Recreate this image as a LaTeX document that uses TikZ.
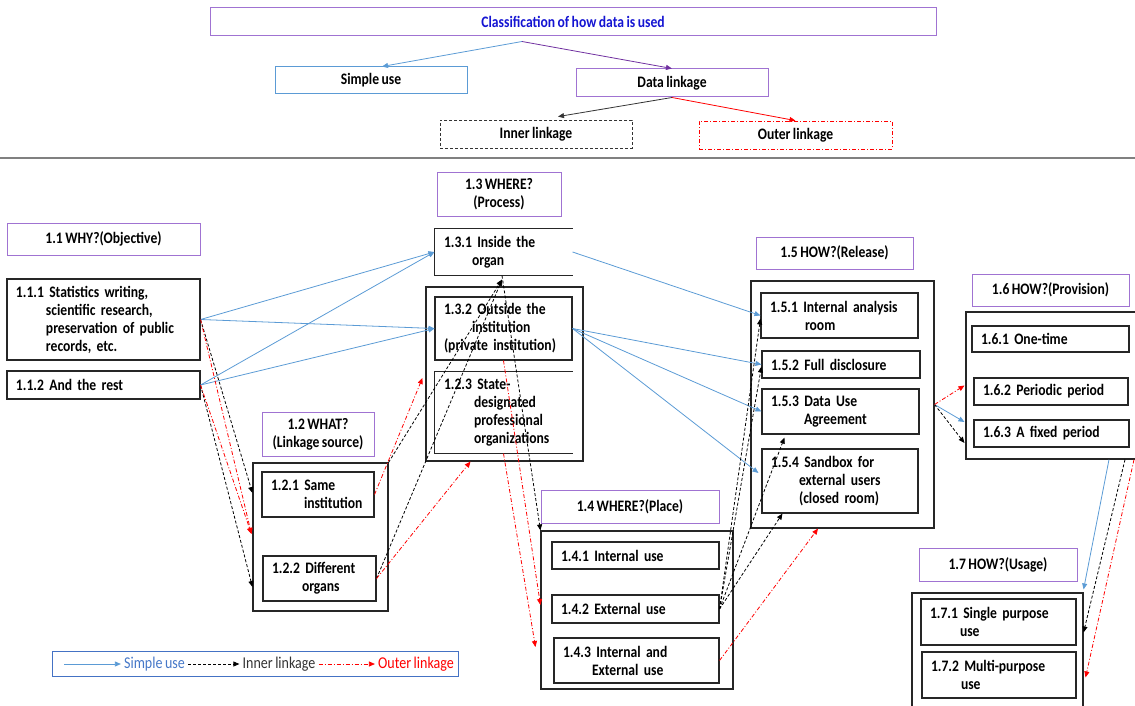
\documentclass[tikz,border=0pt]{standalone}
\usepackage{fontspec}
\setmainfont{Carlito}[FakeStretch=0.85,WordSpace=0.8]
\usetikzlibrary{arrows.meta,calc}
\definecolor{sblue}{RGB}{91,155,213}
\definecolor{purp}{RGB}{160,115,210}
\definecolor{dpurp}{RGB}{112,48,160}
\definecolor{ttblue}{RGB}{20,20,210}
\definecolor{lgblue}{RGB}{68,114,196}
\definecolor{lgtext}{RGB}{70,120,200}
\begin{document}
\begin{tikzpicture}[x=1pt,y=-1pt,
 every node/.style={font=\fontsize{16}{18}\selectfont\bfseries, inner sep=0pt},
 hdr/.style={draw=purp, line width=1pt, align=center},
 itm/.style={draw=black!85, line width=1.1pt, align=left, inner xsep=9pt, inner ysep=0pt},
 cont/.style={draw=black!85, line width=1.1pt},
 arrtip/.style={-{Triangle[length=6pt,width=5pt]}},
 simplearr/.style={arrtip, draw=sblue, line width=0.8pt},
 innerarr/.style={arrtip, draw=black, line width=0.8pt, dash pattern=on 3pt off 2pt},
 outerarr/.style={arrtip, draw=red, line width=0.8pt, dash pattern=on 4pt off 2pt on 1pt off 2pt},
 legtext/.style={font=\fontsize{16.5}{18}\selectfont\mdseries, inner xsep=3pt},
]
\useasboundingbox (0,0) rectangle (1135,706);

% ---------- top classification ----------
\node[draw=purp, line width=1pt, minimum width=726pt, minimum height=28pt, text=ttblue] (tt) at (573,22) {Classification of how data is used};
\node[draw=sblue, line width=1pt, minimum width=192pt, minimum height=27pt] (su) at (371,80.5) {Simple use};
\node[draw=purp, line width=1pt, minimum width=192pt, minimum height=28pt] (dl) at (672,83) {Data linkage};
\node[draw=black!80, line width=0.8pt, dash pattern=on 3pt off 2pt, minimum width=192pt, minimum height=28pt] (il) at (536,134) {Inner linkage};
\node[draw=red, line width=0.8pt, dash pattern=on 4pt off 2pt on 1pt off 2pt, minimum width=193pt, minimum height=28pt] (ol) at (795.5,135) {Outer linkage};

\draw[simplearr] ([xshift=-51pt,yshift=-5pt]tt.south) -- ([xshift=11pt]su.north);
\draw[arrtip, draw=dpurp, line width=0.8pt] ([xshift=-51pt,yshift=-5pt]tt.south) -- (dl.north);
\draw[arrtip, draw=black!80, line width=0.8pt] (dl.south) -- ([xshift=22pt,yshift=3pt]il.north);
\draw[arrtip, draw=red, line width=0.8pt] (dl.south) -- (ol.north);

\coordinate (s0) at (0,158);
\coordinate (s1) at (1135,158);
\draw[gray, line width=1.2pt] (s0) -- (s1);

% ---------- headers ----------
\node[hdr, minimum width=193pt, minimum height=32pt] (h11) at (103.5,239) {1.1 WHY?(Objective)};
\node[hdr, minimum width=124pt, minimum height=44pt] (h13) at (499,194) {1.3 WHERE?\\(Process)};
\node[hdr, minimum width=112pt, minimum height=44pt] (h12) at (318,434) {1.2 WHAT?\\(Linkage source)};
\node[hdr, minimum width=178pt, minimum height=33pt] (h14) at (630,506.5) {1.4 WHERE?(Place)};
\node[hdr, minimum width=157pt, minimum height=32pt] (h15) at (834.5,253) {1.5 HOW?(Release)};
\node[hdr, minimum width=157pt, minimum height=32pt] (h16) at (1050.5,290) {1.6 HOW?(Provision)};
\node[hdr, minimum width=158pt, minimum height=33pt] (h17) at (998,564.5) {1.7 HOW?(Usage)};

% ---------- containers ----------
\node[cont, minimum width=157pt, minimum height=174pt] (c13) at (504.5,374) {};
\node[cont, minimum width=135pt, minimum height=148pt] (c12) at (320.5,537) {};
\node[cont, minimum width=192pt, minimum height=158pt] (c14) at (637,610) {};
\node[cont, minimum width=183pt, minimum height=247pt] (c15) at (842.5,404.5) {};
\node[cont, minimum width=171pt, minimum height=147pt] (c16) at (1051.5,385.5) {};
\node[cont, minimum width=171pt, minimum height=119pt] (c17) at (997.5,652.5) {};

% ---------- items ----------
\node[itm, text width=175pt, minimum height=81pt] (b111) at (103.5,319.5) {1.1.1 Statistics writing,\\\hspace*{30pt}scientific research,\\\hspace*{30pt}preservation of public\\\hspace*{30pt}records, etc.};
\node[itm, text width=175pt, minimum height=28pt] (b112) at (103.5,385) {1.1.2 And the rest};

\node[itm, draw=none, text width=119pt, minimum height=46pt] (b131) at (503.5,252) {1.3.1 Inside the\\\hspace*{28pt}organ};
\draw[black!85, line width=1.1pt] (b131.north east) -- (b131.north west) -- (b131.south west) -- (b131.south east);
\node[itm, text width=119pt, minimum height=63pt] (b132) at (503.5,328.5) {1.3.2 Outside the\\\hspace*{28pt}institution\\(private institution)};
\node[itm, draw=none, text width=119pt, minimum height=81pt] (b123) at (503.5,412.5) {1.2.3 State-\\\hspace*{30pt}designated\\\hspace*{30pt}professional\\\hspace*{30pt}organizations};
\draw[black!85, line width=1.1pt] (b123.north east) -- (b123.north west) -- (b123.south west) -- (b123.south east);

\node[itm, text width=94pt, minimum height=45pt] (b121) at (318,494.5) {1.2.1 Same\\\hspace*{33pt}institution};
\node[itm, text width=95pt, minimum height=45pt] (b122) at (319.5,578.5) {1.2.2 Different\\\hspace*{30pt}organs};

\node[itm, text width=149pt, minimum height=27pt] (b141) at (635.5,555.5) {1.4.1 Internal use};
\node[itm, text width=149pt, minimum height=28pt] (b142) at (635.5,609) {1.4.2 External use};
\node[itm, text width=147pt, minimum height=45pt] (b143) at (636.5,660.5) {1.4.3 Internal and\\\hspace*{29pt}External use};

\node[itm, text width=139pt, minimum height=45pt] (b151) at (839.5,315.5) {1.5.1 Internal analysis\\\hspace*{35pt}room};
\node[itm, text width=140pt, minimum height=27pt] (b152) at (841,364.5) {1.5.2 Full disclosure};
\node[itm, text width=139pt, minimum height=45pt] (b153) at (840.5,411.5) {1.5.3 Data Use\\\hspace*{33pt}Agreement};
\node[itm, text width=138pt, minimum height=64pt] (b154) at (840,481) {1.5.4 Sandbox for\\\hspace*{28pt}external users\\\hspace*{28pt}(closed room)};

\node[itm, text width=139pt, minimum height=26pt] (b161) at (1050.5,339) {1.6.1 One-time};
\node[itm, text width=136pt, minimum height=27pt] (b162) at (1051,391.5) {1.6.2 Periodic period};
\node[itm, text width=137pt, minimum height=27pt] (b163) at (1051.5,433.5) {1.6.3 A fixed period};

\node[itm, text width=137pt, minimum height=46pt] (b171) at (998.5,622) {1.7.1 Single purpose\\\hspace*{30pt}use};
\node[itm, text width=136pt, minimum height=46pt] (b172) at (999,675) {1.7.2 Multi-purpose\\\hspace*{30pt}use};

% ---------- connectors: simple use ----------
\draw[simplearr] (b111.east) -- (b131.west);
\draw[simplearr] (b112.east) -- (b131.west);
\draw[simplearr] (b111.east) -- (b132.west);
\draw[simplearr] (b112.east) -- (b132.west);
\draw[simplearr] (b131.east) -- (b151.west);
\draw[simplearr] (b132.east) -- (b152.west);
\draw[simplearr] (b132.east) -- (b153.west);
\draw[simplearr] (b132.east) -- ([xshift=-3pt,yshift=8pt]b154.west);
\draw[simplearr] (c15.east) -- ([xshift=-1pt,yshift=-36.5pt]c16.west);
\draw[simplearr] ([xshift=57.5pt]c16.south) -- ([yshift=3pt]c17.north east);

% ---------- connectors: inner linkage ----------
\draw[innerarr] (b111.east) -- ([yshift=44pt]c12.west);
\draw[innerarr] (b112.east) -- ([yshift=-50pt]c12.west);
\draw[innerarr] (c12.north east) -- ([xshift=-1.5pt,yshift=-4pt]b131.south);
\draw[innerarr] (b122.east) -- ([xshift=-1.5pt,yshift=-4pt]b131.south);
\draw[innerarr] ([xshift=-1.5pt]b131.south) -- (c14.north west);
\draw[innerarr] (b142.east) -- ([yshift=20pt]b151.south west);
\draw[innerarr] (b142.east) -- ([yshift=12pt]b152.south west);
\draw[innerarr] (b142.east) -- ([xshift=23pt,yshift=-3pt]b153.south west);
\draw[innerarr] (b142.east) -- ([xshift=21pt]b154.south west);
\draw[innerarr] (c15.east) -- ([xshift=-1pt,yshift=-57.5pt]c16.west);
\draw[innerarr] ([xshift=73.5pt]c16.south) -- ([yshift=-40pt]c17.north east);

% ---------- connectors: outer linkage ----------
\draw[outerarr] (b111.east) -- ([xshift=-1pt,yshift=3pt]c12.west);
\draw[outerarr] (b112.east) -- ([xshift=-1pt,yshift=3pt]c12.west);
\draw[outerarr] (b121.east) -- ([xshift=-3pt,yshift=-4pt]c13.west);
\draw[outerarr] (b122.east) -- ([xshift=-34pt]c13.south);
\draw[outerarr] (b132.south) -- ([yshift=5pt]c14.west);
\draw[outerarr] (b123.south) -- ([xshift=-5pt,yshift=-37pt]c14.west);
\draw[outerarr] (b143.east) -- ([xshift=-24.5pt]c15.south);
\draw[outerarr] (c15.east) -- ([xshift=-1pt]c16.west);
\draw[outerarr] ([xshift=82.5pt]c16.south) -- ([xshift=2pt,yshift=-85pt]c17.north east);

% ---------- legend ----------
\node[draw=lgblue, line width=0.8pt, minimum width=406pt, minimum height=25pt] (lg) at (255,663.5) {};
\node[legtext, text=lgtext] (ls) at (154.5,664) {Simple use};
\node[legtext, text=black!80] (li) at (279,664) {Inner linkage};
\node[legtext, text=red] (lo) at (416,664) {Outer linkage};
\coordinate (l0) at (64,664);
\draw[simplearr] (l0) -- (ls.west);
\draw[innerarr] (ls.east) -- (li.west);
\draw[outerarr] (li.east) -- (lo.west);
\end{tikzpicture}
\end{document}
